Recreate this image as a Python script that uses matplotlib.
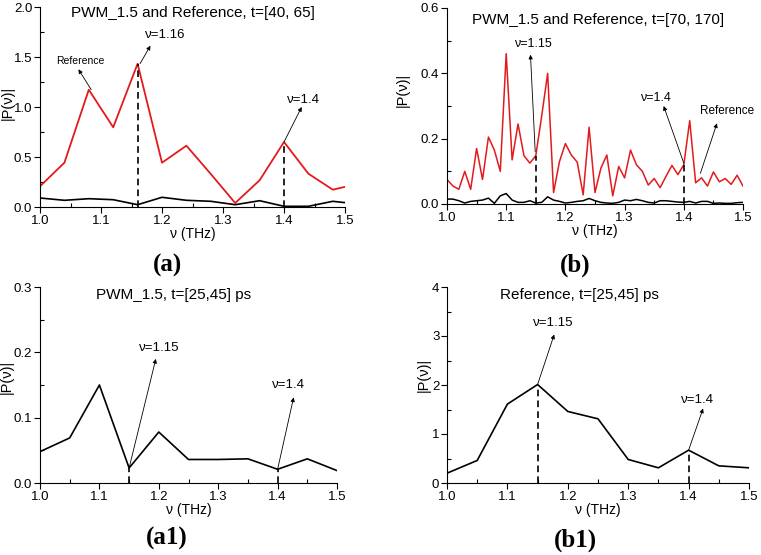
import numpy as np
import matplotlib
matplotlib.use("Agg")
import matplotlib.pyplot as plt
from matplotlib.ticker import MultipleLocator

plt.rcParams['font.family'] = ['Liberation Sans', 'DejaVu Sans']

# panel (a): t=[40, 65], step 0.04
nu_a = [1.00, 1.04, 1.08, 1.12, 1.16, 1.20, 1.24, 1.28, 1.32, 1.36, 1.40, 1.44, 1.48, 1.52]
ref_a = [0.207, 0.443, 1.173, 0.797, 1.433, 0.443, 0.613, 0.33, 0.04, 0.267, 0.65, 0.333, 0.173, 0.23]
pwm_a = [0.09, 0.067, 0.083, 0.073, 0.023, 0.097, 0.067, 0.057, 0.023, 0.063, 0.007, 0.007, 0.057, 0.03]

# panel (b): t=[70, 170], step 0.01
nu_b = [round(1.0 + 0.01 * i, 2) for i in range(51)]
ref_b = [0.075, 0.055, 0.045, 0.100, 0.045, 0.170, 0.075, 0.205, 0.165, 0.100,
         0.460, 0.135, 0.245, 0.148, 0.125, 0.148, 0.270, 0.400, 0.035, 0.130,
         0.185, 0.150, 0.128, 0.028, 0.235, 0.035, 0.110, 0.150, 0.025, 0.115,
         0.080, 0.165, 0.120, 0.100, 0.058, 0.078, 0.050, 0.085, 0.118, 0.090,
         0.120, 0.255, 0.065, 0.080, 0.055, 0.098, 0.068, 0.078, 0.060, 0.088,
         0.055]
pwm_b = [0.015, 0.015, 0.010, 0.003, 0.008, 0.010, 0.012, 0.018, 0.002, 0.025,
         0.032, 0.012, 0.005, 0.005, 0.010, 0.003, 0.005, 0.022, 0.012, 0.008,
         0.003, 0.005, 0.008, 0.010, 0.017, 0.010, 0.005, 0.003, 0.002, 0.005,
         0.012, 0.010, 0.014, 0.010, 0.005, 0.003, 0.010, 0.010, 0.008, 0.006,
         0.005, 0.008, 0.003, 0.008, 0.008, 0.002, 0.003, 0.002, 0.002, 0.004,
         0.005]

# panels (a1), (b1): t=[25,45] ps, step 0.05
nu_c = [1.00, 1.05, 1.10, 1.15, 1.20, 1.25, 1.30, 1.35, 1.40, 1.45, 1.50]
pwm_c = [0.048, 0.069, 0.150, 0.023, 0.078, 0.036, 0.036, 0.037, 0.021, 0.037, 0.019]
ref_c = [0.20, 0.46, 1.61, 2.01, 1.46, 1.31, 0.48, 0.31, 0.67, 0.35, 0.31]

W, H = 761, 555
fig = plt.figure(figsize=(W / 100, H / 100), dpi=100)


def make_axes(left, top, right, bottom):
    return fig.add_axes([left / W, 1 - bottom / H, (right - left) / W, (bottom - top) / H])


def style(ax, ymax, ymaj, title, tx, ty, ylx, yly):
    ax.set_xlim(1.0, 1.5)
    ax.set_ylim(0, ymax)
    ax.xaxis.set_major_locator(MultipleLocator(0.1))
    ax.xaxis.set_minor_locator(MultipleLocator(0.05))
    ax.yaxis.set_major_locator(MultipleLocator(ymaj))
    ax.yaxis.set_minor_locator(MultipleLocator(ymaj / 2))
    ax.spines['top'].set_visible(False)
    ax.spines['right'].set_visible(False)
    ax.tick_params(which='major', direction='out', length=4, width=0.8, labelsize=9.5, pad=1.5)
    ax.tick_params(which='minor', direction='in', length=3, width=0.8)
    ax.set_xlabel('ν (THz)', fontsize=10, labelpad=0)
    ax.set_ylabel('|P(ν)|', fontsize=10.5)
    ax.yaxis.set_label_coords(ylx, yly)
    ax.text(tx, ty, title, transform=ax.transAxes, ha='center', va='center', fontsize=11)


def arrow(ax, tail, head, text=None, tpos=None, fs=9.5):
    ax.annotate('', xy=head, xytext=tail,
                arrowprops=dict(arrowstyle='-|>', lw=0.6, color='k', mutation_scale=6,
                                shrinkA=0, shrinkB=0))
    if text:
        ax.text(tpos[0], tpos[1], text, fontsize=fs, ha='left', va='center')


def vdash(ax, x, y):
    ax.plot([x, x], [0, y], color='k', ls=(0, (4, 2.5)), lw=1.2)


# (a)
ax = make_axes(40, 7, 345, 207)
ax.plot(nu_a, ref_a, color='#e31a1c', lw=1.3)
ax.plot(nu_a, pwm_a, color='k', lw=1.2)
vdash(ax, 1.16, 1.433)
vdash(ax, 1.40, 0.65)
style(ax, 2.0, 0.5, 'PWM_1.5 and Reference, t=[40, 65]', 0.5, 0.97, -0.083, 0.52)
arrow(ax, (1.164, 1.433), (1.181, 1.613), 'ν=1.16', (1.172, 1.72))
arrow(ax, (1.084, 1.173), (1.063, 1.377), 'Reference', (1.026, 1.46), 7.5)
arrow(ax, (1.40, 0.65), (1.429, 1.0), 'ν=1.4', (1.405, 1.07))

# (b)
ax = make_axes(447, 8, 743, 204)
ax.plot(nu_b, ref_b, color='#e31a1c', lw=1.1)
ax.plot(nu_b, pwm_b, color='k', lw=1.1)
vdash(ax, 1.15, 0.148)
vdash(ax, 1.40, 0.12)
style(ax, 0.6, 0.2, 'PWM_1.5 and Reference, t=[70, 170]', 0.51, 0.94, -0.125, 0.58)
arrow(ax, (1.149, 0.16), (1.141, 0.457), 'ν=1.15', (1.114, 0.491), 9)
arrow(ax, (1.40, 0.125), (1.366, 0.30), 'ν=1.4', (1.326, 0.326), 9)
arrow(ax, (1.428, 0.094), (1.456, 0.247), 'Reference', (1.428, 0.285), 8.5)

# (a1)
ax = make_axes(40, 287, 337, 483)
ax.plot(nu_c, pwm_c, color='k', lw=1.2)
vdash(ax, 1.15, 0.023)
vdash(ax, 1.40, 0.021)
style(ax, 0.3, 0.1, 'PWM_1.5, t=[25,45] ps', 0.45, 0.96, -0.088, 0.54)
arrow(ax, (1.15, 0.023), (1.195, 0.19), 'ν=1.15', (1.166, 0.207))
arrow(ax, (1.40, 0.021), (1.427, 0.131), 'ν=1.4', (1.391, 0.15))

# (b1)
ax = make_axes(447, 287, 749, 483)
ax.plot(nu_c, ref_c, color='k', lw=1.2)
vdash(ax, 1.15, 2.01)
vdash(ax, 1.40, 0.67)
style(ax, 4, 1, 'Reference, t=[25,45] ps', 0.44, 0.96, -0.053, 0.55)
arrow(ax, (1.15, 2.01), (1.1775, 3.03), 'ν=1.15', (1.142, 3.27))
arrow(ax, (1.40, 0.67), (1.424, 1.52), 'ν=1.4', (1.388, 1.69))

# panel letters
lab = dict(fontsize=18, fontweight='bold', family='Liberation Serif', ha='center', va='center')
fig.text(167 / W, 1 - 265 / H, '(a)', **lab)
fig.text(575 / W, 1 - 265 / H, '(b)', **lab)
fig.text(167 / W, 1 - 538 / H, '(a1)', **lab)
fig.text(575 / W, 1 - 540 / H, '(b1)', **lab)

fig.savefig('out.png', dpi=100)
